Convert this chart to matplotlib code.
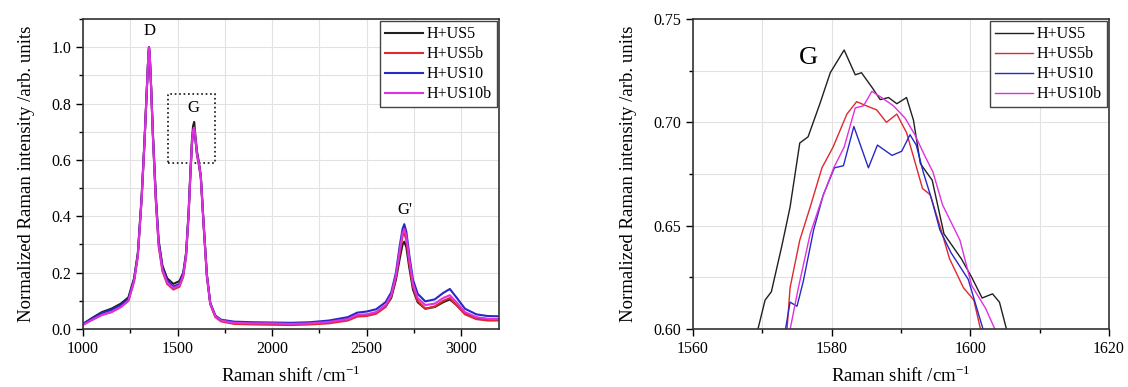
import matplotlib.pyplot as plt
from matplotlib.patches import Rectangle
from matplotlib.ticker import MultipleLocator, FormatStrFormatter

plt.rcParams['font.family'] = ['Liberation Serif', 'DejaVu Serif']
plt.rcParams['mathtext.fontset'] = 'custom'
plt.rcParams['mathtext.rm'] = 'Liberation Serif'

labels = ["H+US5", "H+US5b", "H+US10", "H+US10b"]
colors = ["#202020", "#e02830", "#2828c8", "#e030e0"]

# full spectrum (left panel)
shift = [1000, 1050, 1100, 1150, 1200, 1240, 1270, 1290, 1310, 1325,
         1337, 1345, 1349, 1353, 1360, 1370, 1385, 1400, 1420, 1445,
         1478, 1510, 1530, 1545, 1558, 1568, 1576, 1582, 1588, 1594,
         1603, 1612, 1623, 1637, 1655, 1673, 1700, 1730, 1800, 1900,
         2000, 2100, 2200, 2300, 2400, 2450, 2500, 2550, 2600, 2630,
         2655, 2675, 2690, 2699, 2710, 2725, 2745, 2770, 2810, 2860,
         2905, 2940, 2975, 3020, 3080, 3140, 3200]

us5 = [0.018, 0.040, 0.060, 0.072, 0.090, 0.112, 0.180, 0.270, 0.470, 0.665,
       0.845, 0.960, 1.000, 0.970, 0.865, 0.690, 0.475, 0.315, 0.225, 0.180,
       0.160, 0.170, 0.200, 0.270, 0.410, 0.560, 0.670, 0.720, 0.735, 0.690,
       0.630, 0.595, 0.545, 0.385, 0.195, 0.092, 0.045, 0.030, 0.022, 0.020,
       0.020, 0.018, 0.020, 0.025, 0.035, 0.048, 0.050, 0.058, 0.080, 0.110,
       0.175, 0.250, 0.300, 0.310, 0.290, 0.220, 0.140, 0.095, 0.072, 0.078,
       0.095, 0.105, 0.085, 0.055, 0.040, 0.035, 0.035]
us5b = [0.015, 0.033, 0.050, 0.060, 0.078, 0.100, 0.168, 0.258, 0.458, 0.658,
        0.840, 0.960, 1.000, 0.970, 0.858, 0.675, 0.455, 0.295, 0.205, 0.160,
        0.140, 0.150, 0.185, 0.255, 0.395, 0.545, 0.655, 0.700, 0.710, 0.675,
        0.615, 0.585, 0.535, 0.375, 0.185, 0.088, 0.042, 0.027, 0.018, 0.016,
        0.015, 0.014, 0.016, 0.020, 0.030, 0.044, 0.046, 0.054, 0.078, 0.115,
        0.185, 0.270, 0.330, 0.340, 0.315, 0.235, 0.150, 0.100, 0.072, 0.080,
        0.100, 0.110, 0.085, 0.052, 0.035, 0.030, 0.030]
us10 = [0.018, 0.038, 0.057, 0.068, 0.085, 0.106, 0.175, 0.265, 0.465, 0.662,
        0.842, 0.960, 1.000, 0.970, 0.862, 0.685, 0.468, 0.308, 0.218, 0.172,
        0.150, 0.160, 0.195, 0.265, 0.405, 0.550, 0.655, 0.695, 0.705, 0.675,
        0.620, 0.590, 0.540, 0.382, 0.192, 0.092, 0.048, 0.033, 0.026, 0.024,
        0.023, 0.022, 0.024, 0.030, 0.042, 0.058, 0.062, 0.070, 0.095, 0.130,
        0.200, 0.295, 0.355, 0.372, 0.345, 0.265, 0.175, 0.125, 0.098, 0.105,
        0.128, 0.142, 0.112, 0.072, 0.052, 0.046, 0.045]
us10b = [0.015, 0.033, 0.050, 0.060, 0.078, 0.100, 0.170, 0.260, 0.460, 0.660,
         0.840, 0.960, 1.000, 0.970, 0.860, 0.680, 0.460, 0.300, 0.210, 0.165,
         0.145, 0.155, 0.190, 0.260, 0.400, 0.550, 0.660, 0.705, 0.715, 0.680,
         0.620, 0.590, 0.540, 0.380, 0.190, 0.090, 0.045, 0.030, 0.022, 0.020,
         0.020, 0.018, 0.020, 0.025, 0.035, 0.050, 0.052, 0.060, 0.085, 0.120,
         0.190, 0.280, 0.340, 0.355, 0.330, 0.250, 0.160, 0.110, 0.085, 0.090,
         0.110, 0.120, 0.095, 0.060, 0.042, 0.036, 0.035]

# G band zoom (right panel)
g_x_us5 = [1569.0, 1570.4, 1571.3, 1572.8, 1574.0, 1575.4, 1576.6, 1578.3, 1579.8,
           1581.8, 1583.4, 1584.3, 1585.8, 1587.0, 1588.2, 1589.4, 1590.8, 1591.8,
           1592.8, 1594.5, 1596.2, 1598.7, 1600.2, 1601.7, 1603.2, 1604.2, 1605.6]
g_y_us5 = [0.595, 0.614, 0.618, 0.640, 0.659, 0.690, 0.693, 0.709, 0.724,
           0.735, 0.723, 0.724, 0.717, 0.711, 0.712, 0.709, 0.712, 0.701,
           0.680, 0.672, 0.646, 0.634, 0.625, 0.615, 0.617, 0.613, 0.595]
g_x_us5b = [1573.5, 1574.0, 1575.4, 1576.9, 1578.6, 1580.2, 1582.2, 1583.6, 1585.0,
            1586.5, 1587.9, 1589.4, 1590.8, 1592.0, 1593.1, 1594.2, 1595.6, 1597.0,
            1599.0, 1600.5, 1601.6]
g_y_us5b = [0.597, 0.620, 0.643, 0.659, 0.678, 0.688, 0.704, 0.710, 0.708,
            0.706, 0.700, 0.704, 0.695, 0.681, 0.668, 0.665, 0.650, 0.634,
            0.620, 0.614, 0.598]
g_x_us10 = [1573.2, 1574.0, 1575.0, 1575.9, 1577.4, 1578.8, 1580.4, 1581.7, 1583.2,
            1585.3, 1586.6, 1588.7, 1590.1, 1591.3, 1592.2, 1593.2, 1594.4, 1595.6,
            1597.2, 1599.7, 1601.2, 1602.0]
g_y_us10 = [0.597, 0.613, 0.611, 0.623, 0.648, 0.665, 0.678, 0.679, 0.698,
            0.678, 0.689, 0.684, 0.686, 0.694, 0.689, 0.676, 0.663, 0.648,
            0.637, 0.624, 0.607, 0.598]
g_x_us10b = [1573.9, 1575.2, 1576.9, 1578.6, 1580.3, 1581.8, 1583.4, 1584.6, 1585.8,
             1587.2, 1588.9, 1590.6, 1592.0, 1593.4, 1594.6, 1596.0, 1598.5, 1600.2,
             1602.2, 1603.8]
g_y_us10b = [0.598, 0.620, 0.646, 0.663, 0.678, 0.688, 0.707, 0.708, 0.715,
             0.712, 0.708, 0.702, 0.694, 0.684, 0.676, 0.660, 0.643, 0.621,
             0.610, 0.598]

fig = plt.figure(figsize=(11.28, 3.87), dpi=100)
ax1 = fig.add_axes([83 / 1128, 58 / 387, 416 / 1128, 310 / 387])
ax2 = fig.add_axes([693 / 1128, 58 / 387, 416 / 1128, 310 / 387])

full = [us5, us5b, us10, us10b]
for ys, c, lab in zip(full, colors, labels):
    ax1.plot(shift, ys, color=c, lw=1.5, label=lab)

zoom = [(g_x_us5, g_y_us5), (g_x_us5b, g_y_us5b), (g_x_us10, g_y_us10), (g_x_us10b, g_y_us10b)]
for (xs, ys), c, lab in zip(zoom, colors, labels):
    ax2.plot(xs, ys, color=c, lw=1.0, label=lab)

ax1.set_xlim(1000, 3200)
ax1.set_ylim(0, 1.1)
ax1.xaxis.set_major_locator(MultipleLocator(500))
ax1.xaxis.set_minor_locator(MultipleLocator(250))
ax1.yaxis.set_major_locator(MultipleLocator(0.2))
ax1.yaxis.set_minor_locator(MultipleLocator(0.1))
ax1.yaxis.set_major_formatter(FormatStrFormatter('%.1f'))

ax2.set_xlim(1560, 1620)
ax2.set_ylim(0.60, 0.75)
ax2.xaxis.set_major_locator(MultipleLocator(20))
ax2.xaxis.set_minor_locator(MultipleLocator(10))
ax2.yaxis.set_major_locator(MultipleLocator(0.05))
ax2.yaxis.set_minor_locator(MultipleLocator(0.025))
ax2.yaxis.set_major_formatter(FormatStrFormatter('%.2f'))

for ax in (ax1, ax2):
    ax.grid(True, which='both', color='#e2e2e2', lw=0.8)
    ax.set_axisbelow(True)
    ax.tick_params(which='major', direction='out', length=5, width=1, labelsize=11.5)
    ax.tick_params(which='minor', direction='out', length=3, width=1)
    for s in ax.spines.values():
        s.set_linewidth(1.2)
        s.set_color('#333333')
    ax.set_xlabel('Raman shift /cm$^{-1}$', fontsize=13.5, labelpad=6)
    ax.set_ylabel('Normalized Raman intensity /arb. units', fontsize=13.5, labelpad=12)
    leg = ax.legend(loc='upper right', fontsize=11.5, fancybox=False, framealpha=1,
                    edgecolor='#444444', handlelength=2.4, labelspacing=0.25,
                    borderpad=0.3, handletextpad=0.2, borderaxespad=0.15)
    leg.get_frame().set_linewidth(1.0)

ax1.text(1350, 1.03, 'D', ha='center', va='bottom', fontsize=12)
ax1.text(1585, 0.755, 'G', ha='center', va='bottom', fontsize=12)
ax1.text(2702, 0.395, "G'", ha='center', va='bottom', fontsize=12)
ax1.add_patch(Rectangle((1450, 0.59), 250, 0.245, fill=False, ls=':', lw=1.2, ec='#111111'))

ax2.text(1576.6, 0.731, 'G', ha='center', va='center', fontsize=19)

fig.savefig('out.png', dpi=100)
